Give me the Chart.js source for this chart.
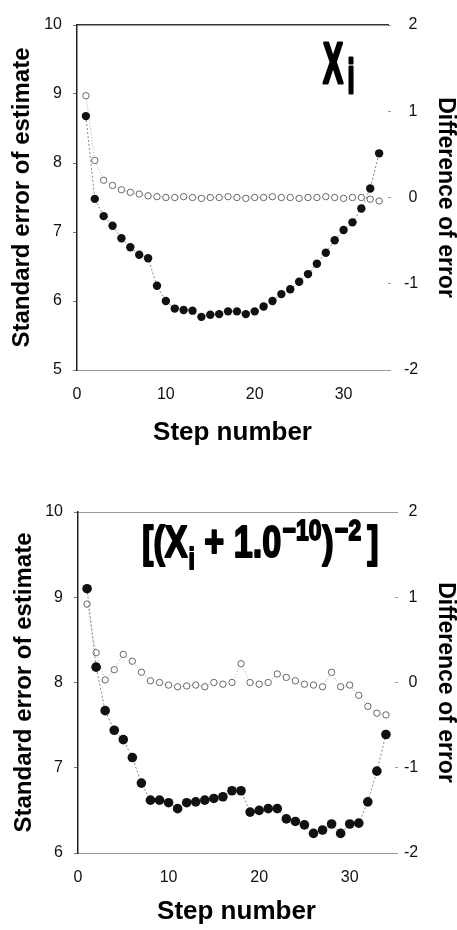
<!DOCTYPE html>
<html>
<head>
<meta charset="utf-8">
<script src="https://cdn.jsdelivr.net/npm/chart.js@4.4.0/dist/chart.umd.min.js"></script>
<style>
html, body { margin: 0; padding: 0; background: #fff; }
#cajaArriba { position: absolute; left: 0; top: 0; width: 457px; height: 450px; }
#cajaAbajo { position: absolute; left: 0; top: 450px; width: 457px; height: 480px; }
</style>
</head>
<body>
<div id="cajaArriba"><canvas id="graficoArriba"></canvas></div>
<div id="cajaAbajo"><canvas id="graficoAbajo"></canvas></div>
<script>
const pasos = [1, 2, 3, 4, 5, 6, 7, 8, 9, 10, 11, 12, 13, 14, 15, 16, 17,
               18, 19, 20, 21, 22, 23, 24, 25, 26, 27, 28, 29, 30, 31, 32, 33, 34];

// panel X_i
const errorArriba = [8.68, 7.48, 7.23, 7.09, 6.91, 6.78, 6.67, 6.62, 6.22, 6.00, 5.89, 5.87,
                     5.86, 5.77, 5.80, 5.81, 5.85, 5.85, 5.81, 5.85, 5.92, 6.00, 6.10, 6.17,
                     6.28, 6.39, 6.54, 6.70, 6.88, 7.03, 7.14, 7.34, 7.63, 8.14];
const difArriba = [1.18, 0.43, 0.20, 0.14, 0.09, 0.06, 0.04, 0.02, 0.01, 0.00, 0.00, 0.01,
                   0.00, -0.01, 0.00, 0.00, 0.01, 0.00, -0.01, 0.00, 0.00, 0.01, 0.00, 0.00,
                   -0.01, 0.00, 0.00, 0.01, 0.00, -0.01, 0.00, 0.00, -0.02, -0.04];

// panel [(X_i + 1.0^-10)^-2]
const errorAbajo = [9.10, 8.18, 7.67, 7.44, 7.33, 7.12, 6.82, 6.62, 6.62, 6.59, 6.52, 6.59,
                    6.60, 6.62, 6.64, 6.66, 6.73, 6.73, 6.48, 6.50, 6.52, 6.52, 6.40, 6.37,
                    6.33, 6.23, 6.27, 6.34, 6.23, 6.34, 6.35, 6.60, 6.96, 7.39];
const difAbajo = [0.92, 0.35, 0.03, 0.15, 0.33, 0.25, 0.12, 0.02, 0.00, -0.03, -0.05, -0.04,
                  -0.03, -0.05, 0.00, -0.02, 0.00, 0.22, 0.00, -0.02, 0.00, 0.10, 0.06, 0.02,
                  -0.02, -0.03, -0.05, 0.12, -0.05, -0.03, -0.15, -0.28, -0.36, -0.38];

const ticksX = [0, 10, 20, 30];
const rangoX = [0, 35];
const rangoIzqArriba = [5, 10];
const rangoIzqAbajo = [6, 10];
const rangoDer = [-2, 2];

const FUENTE = '"Liberation Sans", Arial, sans-serif';
Chart.defaults.font.family = FUENTE;
Chart.defaults.color = '#111';

const puntos = (ys) => pasos.map((x, i) => ({ x: x, y: ys[i] }));

// rotulo grande y estrecho dentro del area del grafico
const etiquetaPanel = {
    id: 'etiquetaPanel',
    afterDraw(chart, args, opts) {
        const { ctx, chartArea: a } = chart;
        ctx.save();
        ctx.translate(a.left + opts.fx * (a.right - a.left), a.top + opts.fy * (a.bottom - a.top));
        ctx.scale(opts.sx, 1);
        ctx.fillStyle = '#000';
        ctx.strokeStyle = '#000';
        ctx.lineWidth = opts.grosor;
        ctx.lineJoin = 'round';
        ctx.textBaseline = 'alphabetic';
        let x = 0;
        opts.partes.forEach(p => {
            ctx.font = `bold ${p.size}px ${FUENTE}`;
            x += p.gap || 0;
            ctx.fillText(p.t, x, p.dy || 0);
            ctx.strokeText(p.t, x, p.dy || 0);
            x += ctx.measureText(p.t).width;
        });
        ctx.restore();
    }
};

function crearGrafico(idCanvas, cfg) {
    const ctx = document.getElementById(idCanvas).getContext('2d');
    return new Chart(ctx, {
        type: 'line',
        data: {
            datasets: [{
                label: 'Standard error of estimate',
                data: puntos(cfg.error),
                yAxisID: 'y',
                borderColor: '#888',
                borderWidth: 1,
                borderDash: [2, 2],
                pointRadius: cfg.radio,
                pointBackgroundColor: '#111',
                pointBorderColor: '#111',
                pointBorderWidth: 0
            }, {
                label: 'Difference of error',
                data: puntos(cfg.dif),
                yAxisID: 'y2',
                borderColor: '#aaa',
                borderWidth: 1,
                borderDash: [1, 2],
                pointRadius: 3.2,
                pointBackgroundColor: '#fff',
                pointBorderColor: '#666',
                pointBorderWidth: 1
            }]
        },
        plugins: [etiquetaPanel],
        options: {
            responsive: true,
            maintainAspectRatio: false,
            animation: false,
            layout: { padding: { top: cfg.arriba, left: 0, right: 0, bottom: 0 } },
            plugins: {
                legend: { display: false },
                tooltip: { enabled: false },
                etiquetaPanel: cfg.etiqueta
            },
            scales: {
                x: {
                    type: 'linear', position: 'bottom',
                    min: rangoX[0], max: rangoX[1],
                    afterBuildTicks: s => { s.ticks = ticksX.map(v => ({ value: v })); },
                    ticks: { padding: cfg.padX, color: '#111', font: { size: 16 } },
                    grid: { display: false, drawTicks: false },
                    border: { color: '#999', width: 1, dash: [2, 3] },
                    title: {
                        display: true, text: 'Step number', color: '#000',
                        font: { size: 26, weight: 'bold', lineHeight: 1 },
                        padding: { top: 0, bottom: cfg.padTituloX }
                    },
                    afterFit: s => { s.height = cfg.altoX; }
                },
                xTop: {
                    type: 'linear', position: 'top',
                    min: rangoX[0], max: rangoX[1],
                    ticks: { display: false },
                    grid: { display: false, drawTicks: false },
                    border: cfg.bordeArriba,
                    afterFit: s => { s.height = 0; }
                },
                y: {
                    position: 'left',
                    min: cfg.rangoIzq[0], max: cfg.rangoIzq[1],
                    ticks: { stepSize: 1, padding: 11, color: '#111', font: { size: 16 } },
                    grid: { drawOnChartArea: false, drawTicks: true, tickLength: 4, color: '#777' },
                    border: { color: '#222', width: 1.5 },
                    title: {
                        display: true, text: 'Standard error of estimate', color: '#000',
                        font: { size: 24, weight: 'bold', lineHeight: 1 },
                        padding: { top: cfg.padTituloIzq, bottom: 0 }
                    },
                    afterFit: s => { s.width = cfg.anchoIzq; }
                },
                y2: {
                    position: 'right',
                    min: rangoDer[0], max: rangoDer[1],
                    ticks: {
                        stepSize: 1, padding: cfg.padDer, color: '#111', font: { size: 16 },
                        callback: v => (v < 0 ? String(v) : ' ' + v)
                    },
                    grid: { drawOnChartArea: false, drawTicks: true, tickLength: 3, color: '#999' },
                    border: { display: false },
                    title: {
                        display: true, text: 'Difference of error', color: '#000',
                        font: { size: 23, weight: 'bold', lineHeight: 1 },
                        padding: { top: 0, bottom: 0 }
                    },
                    afterFit: s => { s.width = cfg.anchoDer; }
                }
            }
        }
    });
}

crearGrafico('graficoArriba', {
    error: errorArriba, dif: difArriba, radio: 4.2,
    rangoIzq: rangoIzqArriba,
    arriba: 25, altoX: 80, padX: 15, padTituloX: 4,
    anchoIzq: 77, anchoDer: 69, padTituloIzq: 10, padDer: 13,
    bordeArriba: { display: true, color: '#333', width: 1.5 },
    etiqueta: {
        fx: 0.791, fy: 0.168, sx: 0.53, grosor: 3,
        partes: [{ t: 'X', size: 57 }, { t: 'i', size: 48, dy: 10, gap: 8 }]
    }
});

crearGrafico('graficoAbajo', {
    error: errorAbajo, dif: difAbajo, radio: 4.8,
    rangoIzq: rangoIzqAbajo,
    arriba: 62, altoX: 77, padX: 15, padTituloX: 5,
    anchoIzq: 78, anchoDer: 62, padTituloIzq: 12, padDer: 6,
    bordeArriba: { display: true, color: '#999', width: 1, dash: [2, 3] },
    etiqueta: {
        fx: 0.202, fy: 0.132, sx: 0.76, grosor: 2,
        partes: [
            { t: '[(X', size: 45 },
            { t: 'i', size: 30, dy: 12, gap: 1 },
            { t: ' + 1.0', size: 45 },
            { t: '\u221210', size: 30, dy: -17, gap: 2 },
            { t: ')', size: 45, gap: 1 },
            { t: '\u22122', size: 30, dy: -17, gap: 2 },
            { t: ']', size: 45, gap: 8 }
        ]
    }
});
</script>
</body>
</html>
